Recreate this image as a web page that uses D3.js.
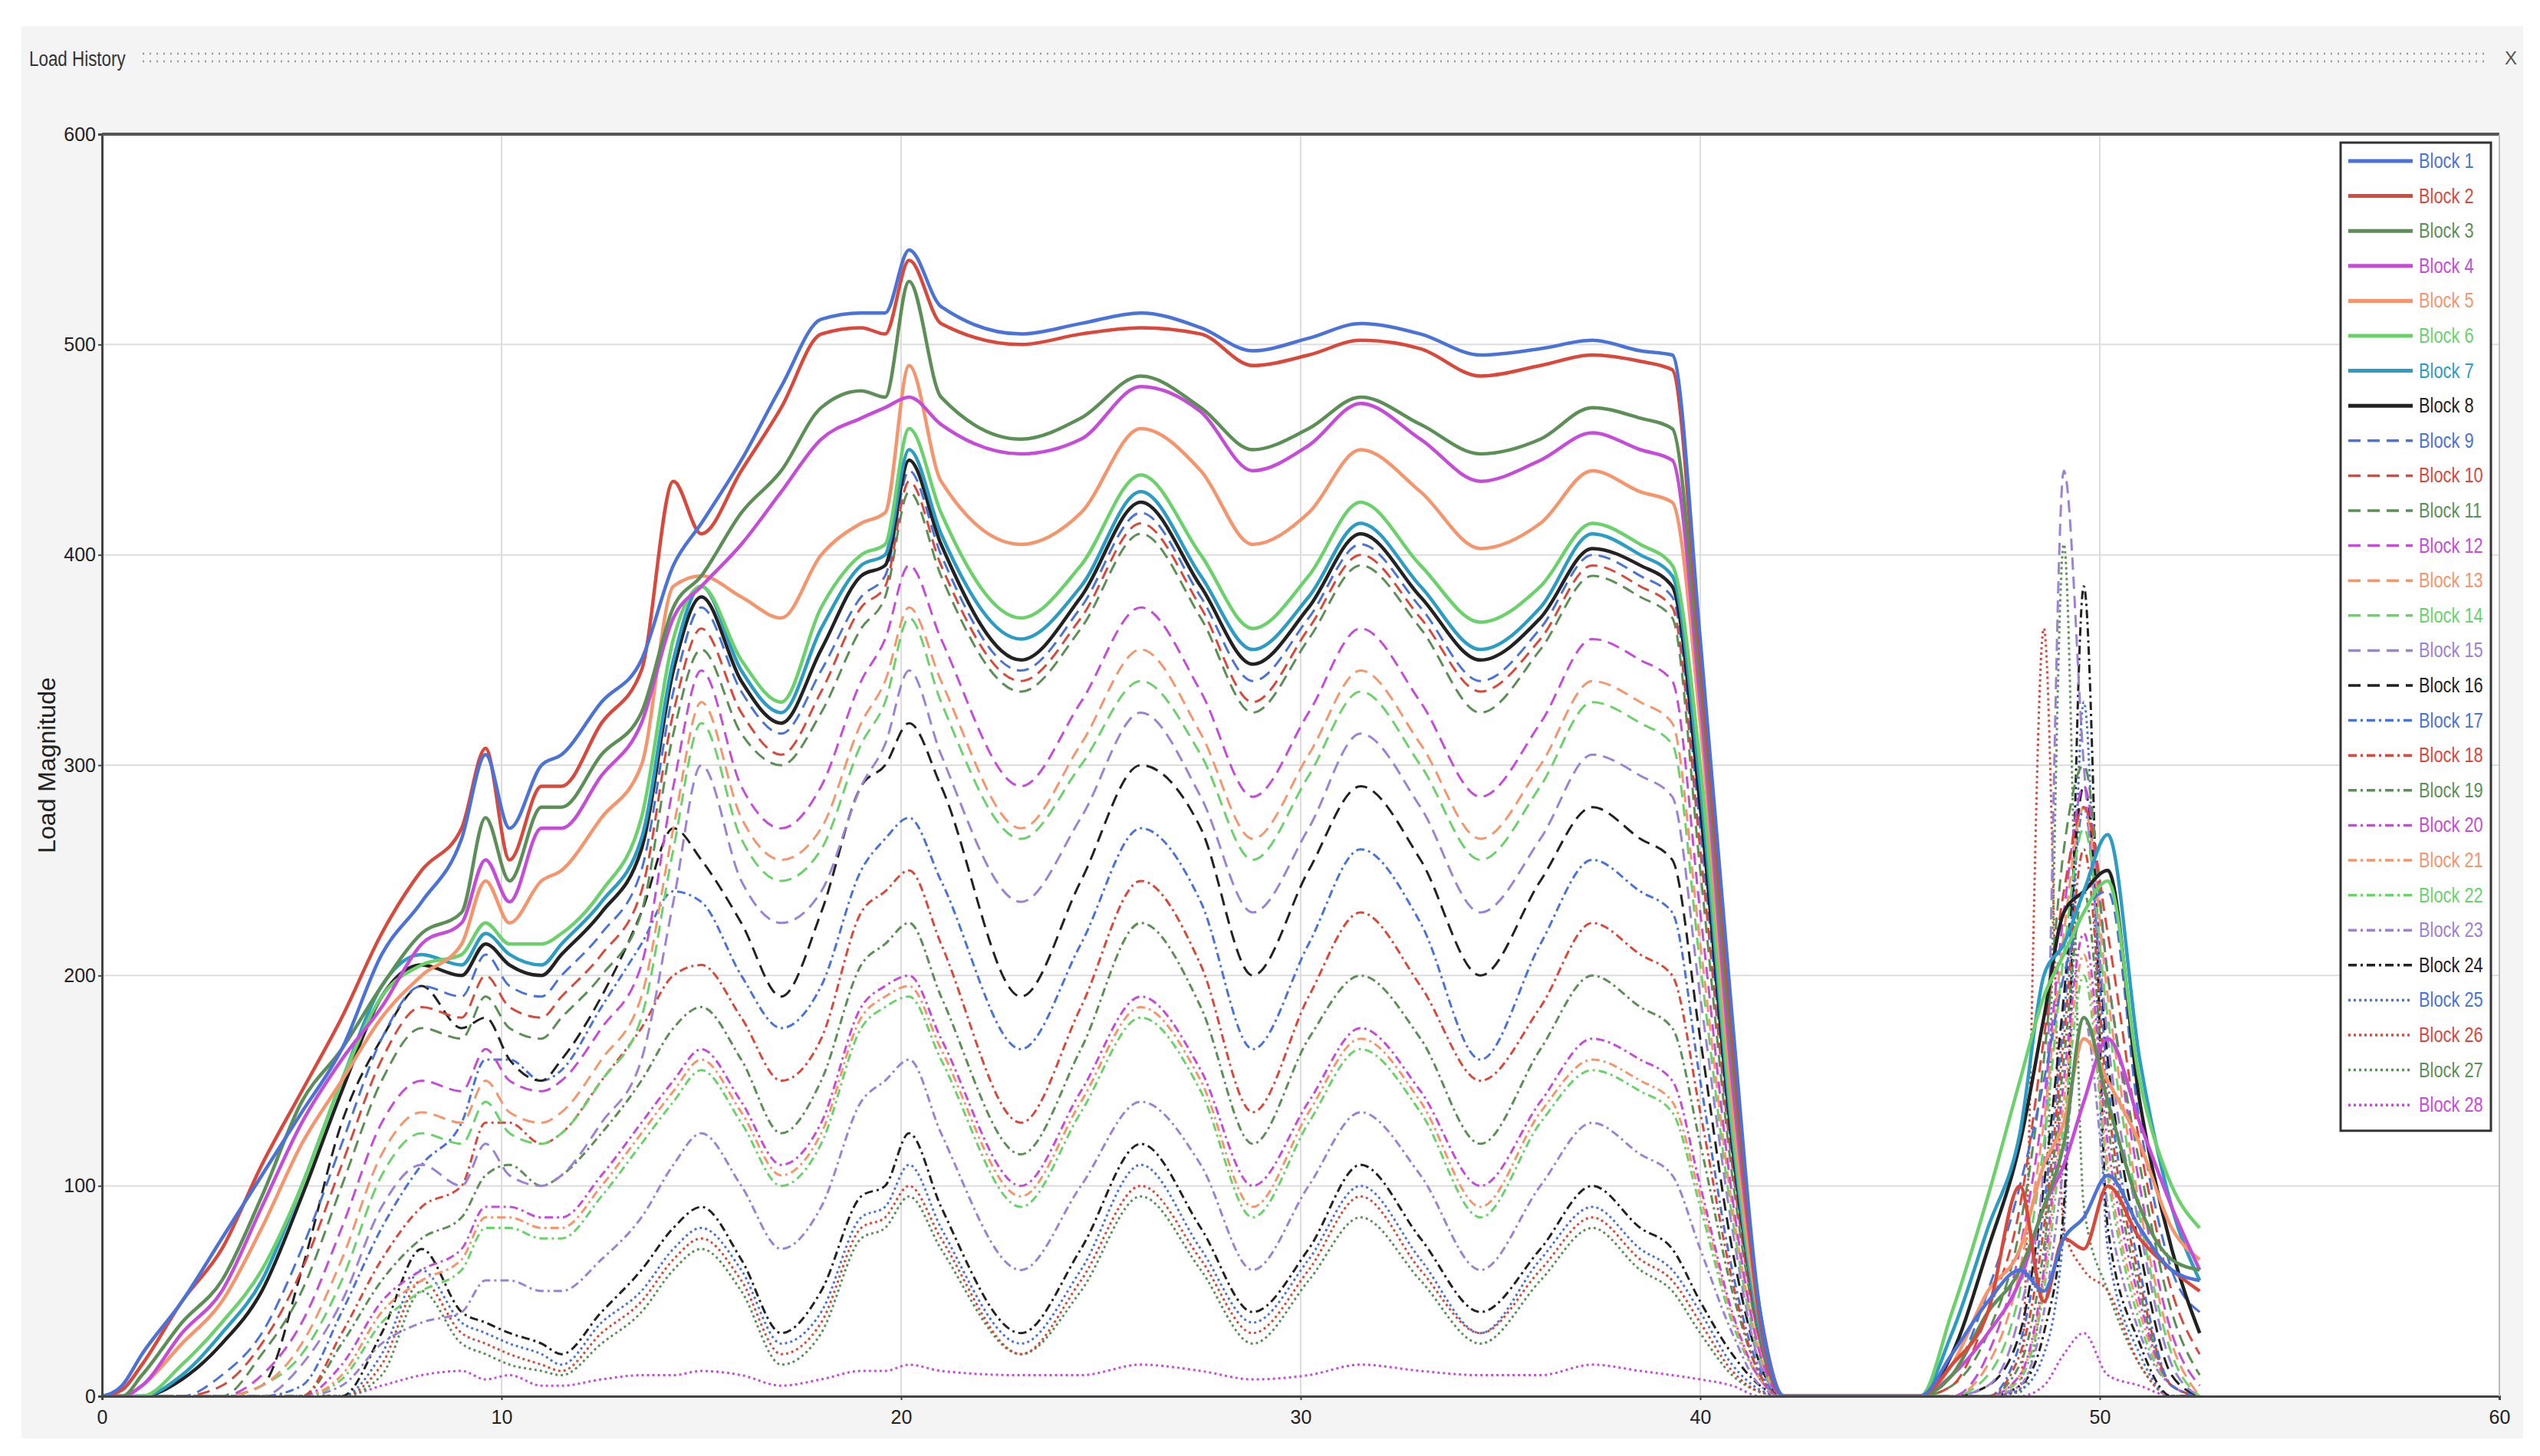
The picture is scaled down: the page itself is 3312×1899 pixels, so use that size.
<!DOCTYPE html>
<html><head><meta charset="utf-8">
<script src="https://cdn.jsdelivr.net/npm/d3@7"></script>
<style>body{margin:0;background:#fff;}svg{display:block}</style>
</head><body>
<svg id="c" width="3312" height="1899"></svg>
<script>
const xs=[0,0.5,1,2,3,4,5,6,7,8,9,9.6,10.2,11,11.5,12.5,13.5,14.3,15,16,17,18,19,19.6,20.2,21,23,24.5,26,27.5,28.8,30.2,31.5,33,34.5,36,37.3,38.5,39.3,40,40.8,41.5,42.1,45.5,46.3,47.2,48,48.6,49.1,49.6,50.2,51,51.8,52.5];
const names=d3.range(1,29).map(i=>"Block "+i);
const B1=[0,5,20,45,75,105,135,165,210,235,265,305,270,300,305,330,350,395,415,445,480,512,515,515,545,518,505,510,515,508,497,503,510,505,495,498,502,497,495,360,180,40,0,0,20,45,60,50,75,85,105,80,60,55];
const B2=[0,3,15,45,70,110,145,180,220,250,270,308,255,290,290,320,345,435,410,440,470,505,508,505,540,510,500,505,508,505,490,495,502,498,485,490,495,492,488,350,170,35,0,0,15,40,100,45,75,70,100,75,60,50];
const B3=[0,0,10,35,55,95,140,165,195,220,230,275,245,280,280,305,325,375,390,420,440,470,478,475,530,475,455,465,485,470,450,460,475,462,448,455,470,465,460,340,160,40,0,0,10,40,60,90,120,180,140,90,65,60];
const B4=[0,0,5,30,50,90,130,160,185,215,225,255,235,270,270,295,320,370,385,405,430,455,465,470,475,462,448,455,480,468,440,452,472,455,435,445,458,450,445,330,150,40,0,0,10,30,55,90,110,140,170,130,90,60];
const B5=[0,0,5,25,45,80,120,150,180,200,215,245,225,245,250,275,300,385,390,380,370,400,415,420,490,435,405,420,460,440,405,420,450,430,403,415,440,430,425,320,140,35,0,0,15,50,70,110,130,170,150,120,80,65];
const B6=[0,0,0,15,35,60,100,150,190,205,210,225,215,215,220,240,275,360,385,350,330,375,400,405,460,420,370,395,438,400,365,390,425,395,368,385,415,405,395,300,130,35,0,0,40,95,150,190,210,230,245,150,100,80];
const B7=[0,0,0,10,30,55,100,150,195,210,205,220,210,205,215,235,265,350,385,345,325,365,395,400,450,410,360,385,430,390,355,380,415,385,355,375,410,400,390,290,125,30,0,0,30,80,125,200,215,240,267,160,90,55];
const B8=[0,0,0,8,25,50,95,145,190,205,200,215,205,200,210,230,260,345,380,340,320,355,390,395,445,405,350,380,425,385,348,375,410,380,350,370,403,395,385,280,120,30,0,0,20,70,120,180,230,240,250,140,70,30];
const B9=[0,0,0,0,10,30,70,120,170,195,190,210,195,190,200,220,250,335,375,335,315,345,380,390,440,400,345,375,420,380,340,370,405,375,340,365,400,390,380,270,115,30,0,0,10,50,100,150,200,230,240,130,60,40];
const B10=[0,0,0,0,5,25,60,110,160,185,180,200,185,180,190,210,240,325,365,325,305,335,375,385,435,395,340,370,415,375,330,365,400,370,335,360,395,385,375,260,110,25,0,0,5,40,90,170,240,280,220,120,50,20];
const B11=[0,0,0,0,0,20,50,100,150,175,170,190,175,170,180,200,230,315,355,315,300,325,365,380,430,390,335,365,410,370,325,360,395,365,325,355,390,380,370,250,105,25,0,0,5,30,80,160,260,300,200,110,40,10];
const B12=[0,0,0,0,0,10,35,80,130,150,145,165,150,145,150,175,205,290,345,290,270,290,340,360,395,360,290,330,375,335,285,325,365,330,285,320,360,350,340,230,95,20,0,0,0,20,70,140,230,290,200,100,30,5];
const B13=[0,0,0,0,0,5,25,65,115,135,130,150,135,130,135,160,190,270,330,275,255,270,320,340,375,340,270,310,355,315,265,305,345,310,265,300,340,330,320,215,90,20,0,0,0,15,60,130,220,280,190,90,25,0];
const B14=[0,0,0,0,0,5,20,55,105,125,120,140,125,120,125,150,180,260,320,265,245,260,310,330,370,330,265,300,340,305,255,295,335,300,255,290,330,320,310,205,85,18,0,0,0,10,50,120,210,270,180,85,20,0];
const B15=[0,0,0,0,0,0,15,45,90,110,100,120,105,100,105,130,160,235,300,245,225,240,290,310,345,305,235,275,325,285,230,270,315,280,230,265,305,295,285,190,80,15,0,0,0,5,40,110,440,300,170,80,15,0];
const B16=[0,0,0,0,0,5,60,130,170,195,175,180,160,150,160,190,230,270,255,225,190,230,290,300,320,290,190,245,300,270,200,250,290,255,200,245,280,265,255,170,70,15,0,0,0,5,30,100,190,290,160,70,10,0];
const B17=[0,0,0,0,0,0,5,40,80,110,130,160,160,150,155,185,215,240,235,200,175,195,250,265,275,245,165,215,270,235,165,215,260,225,160,215,255,240,230,150,60,12,0,0,0,0,25,90,180,280,150,60,5,0];
const B18=[0,0,0,0,0,0,0,30,65,90,100,130,130,120,125,150,175,200,205,180,150,170,230,240,250,215,130,185,245,205,135,190,230,195,150,185,225,210,200,135,55,10,0,0,0,0,20,80,170,260,140,55,5,0];
const B19=[0,0,0,0,0,0,0,25,55,75,85,105,110,100,105,125,150,175,185,160,125,150,205,215,225,190,115,165,225,185,120,170,200,170,120,165,200,185,175,120,50,10,0,0,0,0,15,70,160,240,130,50,5,0];
const B20=[0,0,0,0,0,0,0,15,45,60,70,90,90,85,85,105,130,150,165,140,110,130,185,195,200,170,100,145,190,155,100,140,175,145,100,140,170,160,150,100,40,8,0,0,0,0,10,60,150,220,120,45,5,0];
const B21=[0,0,0,0,0,0,0,10,40,55,65,85,85,80,80,100,125,145,160,135,105,125,180,190,195,165,95,140,185,150,90,135,170,140,90,135,160,150,140,95,38,8,0,0,0,0,10,55,140,210,110,40,5,0];
const B22=[0,0,0,0,0,0,0,8,35,50,60,80,80,75,75,95,120,140,155,130,100,120,175,185,190,160,90,135,180,145,85,130,165,135,85,130,155,145,135,90,35,8,0,0,0,0,8,50,130,200,105,35,5,0];
const B23=[0,0,0,0,0,0,0,5,25,35,40,55,55,50,50,65,85,110,125,100,70,90,140,150,160,125,60,100,140,110,60,100,135,105,60,100,130,115,105,70,30,5,0,0,0,0,5,40,110,180,90,30,5,0];
const B24=[0,0,0,0,0,0,0,0,30,70,40,35,30,25,20,40,60,80,90,65,30,50,95,100,125,90,30,70,120,80,40,70,110,75,40,70,100,80,70,45,20,5,0,0,0,0,5,30,90,385,80,25,0,0];
const B25=[0,0,0,0,0,0,0,0,20,60,35,30,25,20,15,35,50,70,80,60,25,40,85,90,110,80,25,60,110,70,35,65,100,65,30,65,90,70,60,40,15,3,0,0,0,0,3,20,80,330,70,20,0,0];
const B26=[0,0,0,0,0,0,0,0,15,55,30,25,20,15,12,30,45,65,75,55,20,35,80,85,100,75,20,55,100,65,30,60,95,60,30,60,85,65,55,35,12,2,0,0,0,0,3,365,80,60,50,15,0,0];
const B27=[0,0,0,0,0,0,0,0,10,50,25,20,15,12,10,25,40,60,70,50,15,30,75,80,95,70,20,50,95,60,25,55,85,55,25,55,80,60,50,30,10,2,0,0,0,0,2,60,405,90,50,15,0,0];
const B28=[0,0,0,0,0,0,0,0,5,10,12,8,10,5,5,8,10,10,12,10,5,8,12,12,15,12,10,10,15,12,8,10,15,12,10,10,15,12,10,8,5,0,0,0,0,0,0,5,20,30,10,5,0,0];
const series=[B1,B2,B3,B4,B5,B6,B7,B8,B9,B10,B11,B12,B13,B14,B15,B16,B17,B18,B19,B20,B21,B22,B23,B24,B25,B26,B27,B28];
const xTicks=[0,10,20,30,40,50,60];
const yTicks=[0,100,200,300,400,500,600];

const palette=["#4a72d8","#d9483b","#5b8f55","#c64bd8","#f6956c","#6bd26b","#2b9cc4","#222222"];
const colorOf=i=>{const b=i%8; if(b===6 && i>=8) return "#9b82d4"; return palette[b];};
const dashOf=i=>i<8?null:i<16?"16,9":i<24?"11,5,3,5":"3,4";
const ff="Liberation Sans, sans-serif";
const svg=d3.select("#c");
svg.append("rect").attr("x",28).attr("y",34).attr("width",3262).attr("height",1842).attr("fill","#f4f4f4");
svg.append("text").attr("transform","translate(38,86) scale(0.8,1)").text("Load History").attr("font-family",ff).attr("font-size",28).attr("fill","#333");
svg.append("line").attr("x1",186).attr("x2",3240).attr("y1",70).attr("y2",70).attr("stroke","#999").attr("stroke-width",2.5).attr("stroke-dasharray","2,7");
svg.append("line").attr("x1",186).attr("x2",3240).attr("y1",80).attr("y2",80).attr("stroke","#999").attr("stroke-width",2.5).attr("stroke-dasharray","2,7");
svg.append("text").attr("x",3266).attr("y",84).text("X").attr("font-family",ff).attr("font-size",24).attr("fill","#555");

const L=133,R=3259,T=175,Bt=1821;
const x=d3.scaleLinear().domain([0,60]).range([L,R]);
const y=d3.scaleLinear().domain([0,600]).range([Bt,T]);
svg.append("rect").attr("x",L).attr("y",T).attr("width",R-L).attr("height",Bt-T).attr("fill","#fff");
const g=svg.append("g");
g.selectAll(".gx").data(xTicks.slice(1,-1)).join("line").attr("x1",d=>x(d)).attr("x2",d=>x(d)).attr("y1",T).attr("y2",Bt).attr("stroke","#ddd").attr("stroke-width",2);
g.selectAll(".gy").data(yTicks.slice(1,-1)).join("line").attr("y1",d=>y(d)).attr("y2",d=>y(d)).attr("x1",L).attr("x2",R).attr("stroke","#ddd").attr("stroke-width",2);

svg.append("clipPath").attr("id","cp").append("rect").attr("x",L).attr("y",T-40).attr("width",R-L).attr("height",Bt-T+40);
const line=d3.line().x((d,i)=>x(xs[i])).y(d=>y(d)).curve(d3.curveMonotoneX);
const lg=svg.append("g").attr("clip-path","url(#cp)");
for(let i=series.length-1;i>=0;i--){
  lg.append("path").attr("d",line(series[i])).attr("fill","none").attr("stroke",colorOf(i))
    .attr("stroke-width",i<8?4.5:3).attr("stroke-dasharray",dashOf(i)).attr("stroke-linejoin","round");
}
const xa=svg.append("g").attr("transform",`translate(0,${Bt})`).call(d3.axisBottom(x).tickValues(xTicks).tickSize(5).tickFormat(d3.format("d")));
const ya=svg.append("g").attr("transform",`translate(${L},0)`).call(d3.axisLeft(y).tickValues(yTicks).tickSize(5).tickFormat(d3.format("d")));
[xa,ya].forEach(a=>{a.selectAll("text").attr("font-family",ff).attr("font-size",25).attr("fill","#222");a.select(".domain").attr("stroke","#444").attr("stroke-width",3);a.selectAll(".tick line").attr("stroke","#444").attr("stroke-width",2);});
xa.selectAll("text").attr("dy","1.1em");
svg.append("line").attr("x1",L).attr("x2",R).attr("y1",T).attr("y2",T).attr("stroke","#555").attr("stroke-width",4);
svg.append("line").attr("x1",R).attr("x2",R).attr("y1",T).attr("y2",Bt).attr("stroke","#bbb").attr("stroke-width",2);
svg.append("text").attr("transform",`translate(72,${(T+Bt)/2}) rotate(-90)`).attr("text-anchor","middle").text("Load Magnitude").attr("font-family",ff).attr("font-size",32).attr("fill","#222");

const lx=3052,ly=186,rowH=45.6;
svg.append("rect").attr("x",lx).attr("y",ly).attr("width",196).attr("height",rowH*28+12).attr("fill","#fff").attr("stroke","#333").attr("stroke-width",3);
names.forEach((n,i)=>{
  const yy=ly+24+i*rowH;
  svg.append("line").attr("x1",lx+10).attr("x2",lx+94).attr("y1",yy).attr("y2",yy).attr("stroke",colorOf(i)).attr("stroke-width",i<8?5:3.5).attr("stroke-dasharray",dashOf(i));
  svg.append("text").attr("transform",`translate(${lx+102},${yy+9}) scale(0.78,1)`).text(n).attr("font-family",ff).attr("font-size",28).attr("fill",colorOf(i));
});
</script>
</body></html>
